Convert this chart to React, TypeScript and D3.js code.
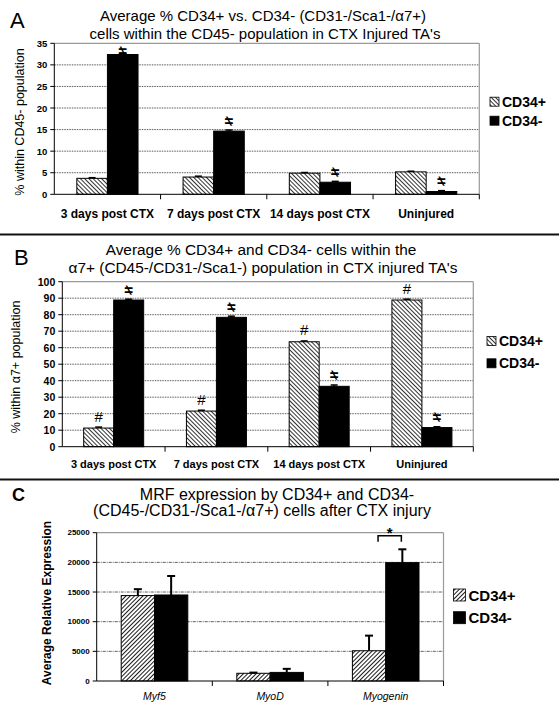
import React from "react";
import * as d3 from "d3";

// ---------- data ----------
const catsAB = ["3 days post CTX", "7 days post CTX", "14 days post CTX", "Uninjured"];
const seriesNames = ["CD34+", "CD34-"];

const aPlus = [3.7, 4.0, 4.9, 5.2];
const aPlusErr = [0.15, 0.2, 0.15, 0.15];
const aMinus = [32.4, 14.65, 2.8, 0.65];
const aMinusErr = [0.3, 0.25, 0.2, 0.2];
const aPlusMarks = ["", "", "", ""];
const aMinusMarks = ["≠", "≠", "≠", "≠"];
const aTicks = [0, 5, 10, 15, 20, 25, 30, 35];

const bPlus = [11.3, 21.6, 63.6, 88.9];
const bPlusErr = [0.6, 0.5, 0.5, 0.5];
const bMinus = [88.9, 78.4, 36.6, 11.6];
const bMinusErr = [0.5, 0.7, 0.8, 0.5];
const bPlusMarks = ["#", "#", "#", "#"];
const bMinusMarks = ["≠", "≠", "≠", "≠"];
const bTicks = [0, 10, 20, 30, 40, 50, 60, 70, 80, 90, 100];

const cCats = ["Myf5", "MyoD", "Myogenin"];
const cPlus = [14400, 1300, 5100];
const cPlusErr = [1080, 120, 2550];
const cMinus = [14500, 1450, 19950];
const cMinusErr = [3200, 600, 2250];
const cTicks = [0, 5000, 10000, 15000, 20000, 25000];

const FONT = "'Liberation Sans', Arial, sans-serif";

type PanelProps = {
  letter: string;
  letterX: number;
  letterY: number;
  letterSize: number;
  letterWeight: string;
  titles: { text: string; x: number; y: number }[];
  titleSize: number;
  yTitle: string;
  yTitleX: number;
  yTitleY: number;
  yTitleSize: number;
  yTitleWeight: string;
  cats: string[];
  catSize: number;
  catWeight: string;
  catStyle: string;
  catY: number;
  plus: number[];
  plusErr: number[];
  minus: number[];
  minusErr: number[];
  plusMarks?: string[];
  minusMarks?: string[];
  ticks: number[];
  tickSize: number;
  x0: number;
  x1: number;
  yTop: number;
  yBot: number;
  barFrac: number;
  hatch: string;
  legendX: number;
  legendY: number[];
  legendSq: number;
  legendSize: number;
  capW: number;
  errW: number;
  gridDash: string;
  bracket?: boolean;
};

function Panel(p: PanelProps) {
  const y = d3.scaleLinear().domain([0, p.ticks[p.ticks.length - 1]]).range([p.yBot, p.yTop]);
  const x = d3.scaleBand<string>().domain(p.cats).range([p.x0, p.x1]).padding(0);
  const bw = x.bandwidth() * p.barFrac;
  const series = [
    { vals: p.plus, errs: p.plusErr, marks: p.plusMarks, fill: `url(#${p.hatch})`, off: -bw },
    { vals: p.minus, errs: p.minusErr, marks: p.minusMarks, fill: "#000", off: 0 },
  ];
  const center = (c: string) => (x(c) as number) + x.bandwidth() / 2;
  return (
    <g>
      <text x={p.letterX} y={p.letterY} fontSize={p.letterSize} fontWeight={p.letterWeight} fontFamily={FONT}>
        {p.letter}
      </text>
      {p.titles.map((t, i) => (
        <text key={i} x={t.x} y={t.y} textAnchor="middle" fontSize={p.titleSize} fontFamily={FONT}>
          {t.text}
        </text>
      ))}
      <text
        transform={`translate(${p.yTitleX},${p.yTitleY}) rotate(-90)`}
        textAnchor="middle"
        dominantBaseline="central"
        fontSize={p.yTitleSize}
        fontWeight={p.yTitleWeight}
        fontFamily={FONT}
      >
        {p.yTitle}
      </text>
      {/* grid */}
      {p.ticks.slice(1, -1).map((t) => (
        <line key={t} x1={p.x0} x2={p.x1} y1={y(t)} y2={y(t)} stroke="#333" strokeWidth={0.8} strokeDasharray={p.gridDash} />
      ))}
      {/* plot border top/right */}
      <line x1={p.x0} x2={p.x1} y1={p.yTop} y2={p.yTop} stroke="#999" strokeWidth={1.2} />
      <line x1={p.x1} x2={p.x1} y1={p.yTop} y2={p.yBot} stroke="#999" strokeWidth={1.2} />
      {/* bars */}
      {series.map((s, si) =>
        p.cats.map((c, i) => {
          const bx = center(c) + s.off;
          const top = y(s.vals[i]);
          const etop = y(s.vals[i] + s.errs[i]);
          const cx = bx + bw / 2;
          const my = Math.max(etop - 10, p.yTop + 7);
          return (
            <g key={`${si}-${i}`}>
              <rect x={bx} y={top} width={bw} height={p.yBot - top} fill={s.fill} stroke="#000" strokeWidth={1} />
              <line x1={cx} x2={cx} y1={top} y2={etop} stroke="#000" strokeWidth={p.errW} />
              <line x1={cx - p.capW / 2} x2={cx + p.capW / 2} y1={etop} y2={etop} stroke="#000" strokeWidth={p.errW} />
              {s.marks && s.marks[i] === "≠" && (
                <text
                  transform={`translate(${cx},${my}) scale(-1,1)`}
                  textAnchor="middle"
                  dominantBaseline="central"
                  fontSize={15}
                  fontWeight="bold"
                  fontFamily={FONT}
                >
                  ≠
                </text>
              )}
              {s.marks && s.marks[i] === "#" && (
                <text x={cx} y={etop - 11} textAnchor="middle" dominantBaseline="central" fontSize={15} fontFamily={FONT}>
                  #
                </text>
              )}
            </g>
          );
        })
      )}
      {/* axes */}
      <line x1={p.x0} x2={p.x0} y1={p.yTop} y2={p.yBot} stroke="#000" strokeWidth={1} />
      <line x1={p.x0} x2={p.x1} y1={p.yBot} y2={p.yBot} stroke="#000" strokeWidth={1} />
      {p.ticks.map((t) => (
        <g key={t}>
          <line x1={p.x0 - 4} x2={p.x0} y1={y(t)} y2={y(t)} stroke="#000" />
          <text
            x={p.x0 - 7}
            y={y(t)}
            textAnchor="end"
            dominantBaseline="central"
            fontSize={p.tickSize}
            fontWeight="bold"
            fontFamily={FONT}
          >
            {t}
          </text>
        </g>
      ))}
      {p.cats.map((c) => (
        <line key={c} x1={(x(c) as number) + x.bandwidth()} x2={(x(c) as number) + x.bandwidth()} y1={p.yBot} y2={p.yBot + 5} stroke="#000" />
      ))}
      {p.cats.map((c) => (
        <text
          key={c}
          x={center(c)}
          y={p.catY}
          textAnchor="middle"
          dominantBaseline="central"
          fontSize={p.catSize}
          fontWeight={p.catWeight}
          fontStyle={p.catStyle}
          fontFamily={FONT}
        >
          {c}
        </text>
      ))}
      {/* bracket */}
      {p.bracket && (() => {
        const c = p.cats[2];
        const lx = center(c) - bw / 2 + 9;
        const rx = center(c) + bw / 2 - 1;
        const by = p.yTop + 3;
        return (
          <g>
            <path d={`M${lx},${by + 6}V${by}H${rx}V${by + 6}`} fill="none" stroke="#000" strokeWidth={1.5} />
            <text x={(lx + rx) / 2} y={by - 3} textAnchor="middle" dominantBaseline="central" fontSize={15} fontWeight="bold" fontFamily={FONT}>
              *
            </text>
          </g>
        );
      })()}
      {/* legend */}
      {seriesNames.map((n, i) => (
        <g key={n}>
          <rect
            x={p.legendX}
            y={p.legendY[i] - p.legendSq / 2}
            width={p.legendSq}
            height={p.legendSq}
            fill={i === 0 ? `url(#${p.hatch})` : "#000"}
            stroke="#000"
            strokeWidth={0.8}
          />
          <text
            x={p.legendX + p.legendSq + 3}
            y={p.legendY[i]}
            dominantBaseline="central"
            fontSize={p.legendSize}
            fontWeight="bold"
            fontFamily={FONT}
          >
            {n}
          </text>
        </g>
      ))}
    </g>
  );
}

export default function App() {
  return (
    <svg width={559} height={705} style={{ position: "absolute", left: 0, top: 0, background: "#fff" }}>
      <defs>
        <pattern id="hatchBack" width={3} height={3} patternUnits="userSpaceOnUse" patternTransform="rotate(45)">
          <rect width={3} height={3} fill="#fff" />
          <line x1={0} y1={0} x2={3} y2={0} stroke="#000" strokeWidth={1.6} />
        </pattern>
        <pattern id="hatchFwd" width={3} height={3} patternUnits="userSpaceOnUse" patternTransform="rotate(-45)">
          <rect width={3} height={3} fill="#fff" />
          <line x1={0} y1={0} x2={3} y2={0} stroke="#000" strokeWidth={1.8} />
        </pattern>
      </defs>
      <rect width={559} height={705} fill="#fff" />

      <Panel
        letter="A"
        letterX={10}
        letterY={28}
        letterSize={22}
        letterWeight="normal"
        titles={[
          { text: "Average % CD34+ vs. CD34- (CD31-/Sca1-/α7+)", x: 263, y: 21 },
          { text: "cells within the CD45- population in CTX Injured TA's", x: 265, y: 38.5 },
        ]}
        titleSize={15}
        yTitle="% within CD45- population"
        yTitleX={20}
        yTitleY={122}
        yTitleSize={12.5}
        yTitleWeight="normal"
        cats={catsAB}
        catSize={12}
        catWeight="bold"
        catStyle="normal"
        catY={213.5}
        plus={aPlus}
        plusErr={aPlusErr}
        minus={aMinus}
        minusErr={aMinusErr}
        plusMarks={aPlusMarks}
        minusMarks={aMinusMarks}
        ticks={aTicks}
        tickSize={9.5}
        x0={54.3}
        x1={479.3}
        yTop={43.3}
        yBot={194.3}
        barFrac={0.288}
        hatch="hatchBack"
        legendX={490}
        legendY={[101.7, 120.7]}
        legendSq={9}
        legendSize={14}
        capW={7}
        errW={1.5}
        gridDash="1.5,1"
      />

      <line x1={0} x2={559} y1={234.5} y2={234.5} stroke="#111" strokeWidth={2} />

      <Panel
        letter="B"
        letterX={14}
        letterY={265}
        letterSize={22}
        letterWeight="normal"
        titles={[
          { text: "Average % CD34+ and CD34- cells within the", x: 261, y: 255 },
          { text: "α7+ (CD45-/CD31-/Sca1-) population in CTX injured TA's", x: 263, y: 273 },
        ]}
        titleSize={15.4}
        yTitle="% within α7+ population"
        yTitleX={16}
        yTitleY={367}
        yTitleSize={12.5}
        yTitleWeight="normal"
        cats={catsAB}
        catSize={11}
        catWeight="bold"
        catStyle="normal"
        catY={464}
        plus={bPlus}
        plusErr={bPlusErr}
        minus={bMinus}
        minusErr={bMinusErr}
        plusMarks={bPlusMarks}
        minusMarks={bMinusMarks}
        ticks={bTicks}
        tickSize={10.5}
        x0={62.3}
        x1={473.3}
        yTop={281.7}
        yBot={446.7}
        barFrac={0.292}
        hatch="hatchBack"
        legendX={487}
        legendY={[341, 363.3]}
        legendSq={9}
        legendSize={14}
        capW={7}
        errW={1.5}
        gridDash="1.5,1"
      />

      <line x1={0} x2={559} y1={479.5} y2={479.5} stroke="#111" strokeWidth={2} />

      <Panel
        letter="C"
        letterX={12}
        letterY={501}
        letterSize={18}
        letterWeight="bold"
        titles={[
          { text: "MRF expression by CD34+ and CD34-", x: 277, y: 499.5 },
          { text: "(CD45-/CD31-/Sca1-/α7+) cells after CTX injury", x: 262, y: 515.5 },
        ]}
        titleSize={16}
        yTitle="Average Relative Expression"
        yTitleX={47}
        yTitleY={603}
        yTitleSize={12}
        yTitleWeight="bold"
        cats={cCats}
        catSize={10.5}
        catWeight="normal"
        catStyle="italic"
        catY={696}
        plus={cPlus}
        plusErr={cPlusErr}
        minus={cMinus}
        minusErr={cMinusErr}
        ticks={cTicks}
        tickSize={8}
        x0={96.7}
        x1={443.5}
        yTop={532.7}
        yBot={681}
        barFrac={0.288}
        hatch="hatchFwd"
        legendX={453.5}
        legendY={[595, 617.7]}
        legendSq={12}
        legendSize={15}
        capW={8}
        errW={2}
        gridDash="3,1,1,1"
        bracket
      />
    </svg>
  );
}
